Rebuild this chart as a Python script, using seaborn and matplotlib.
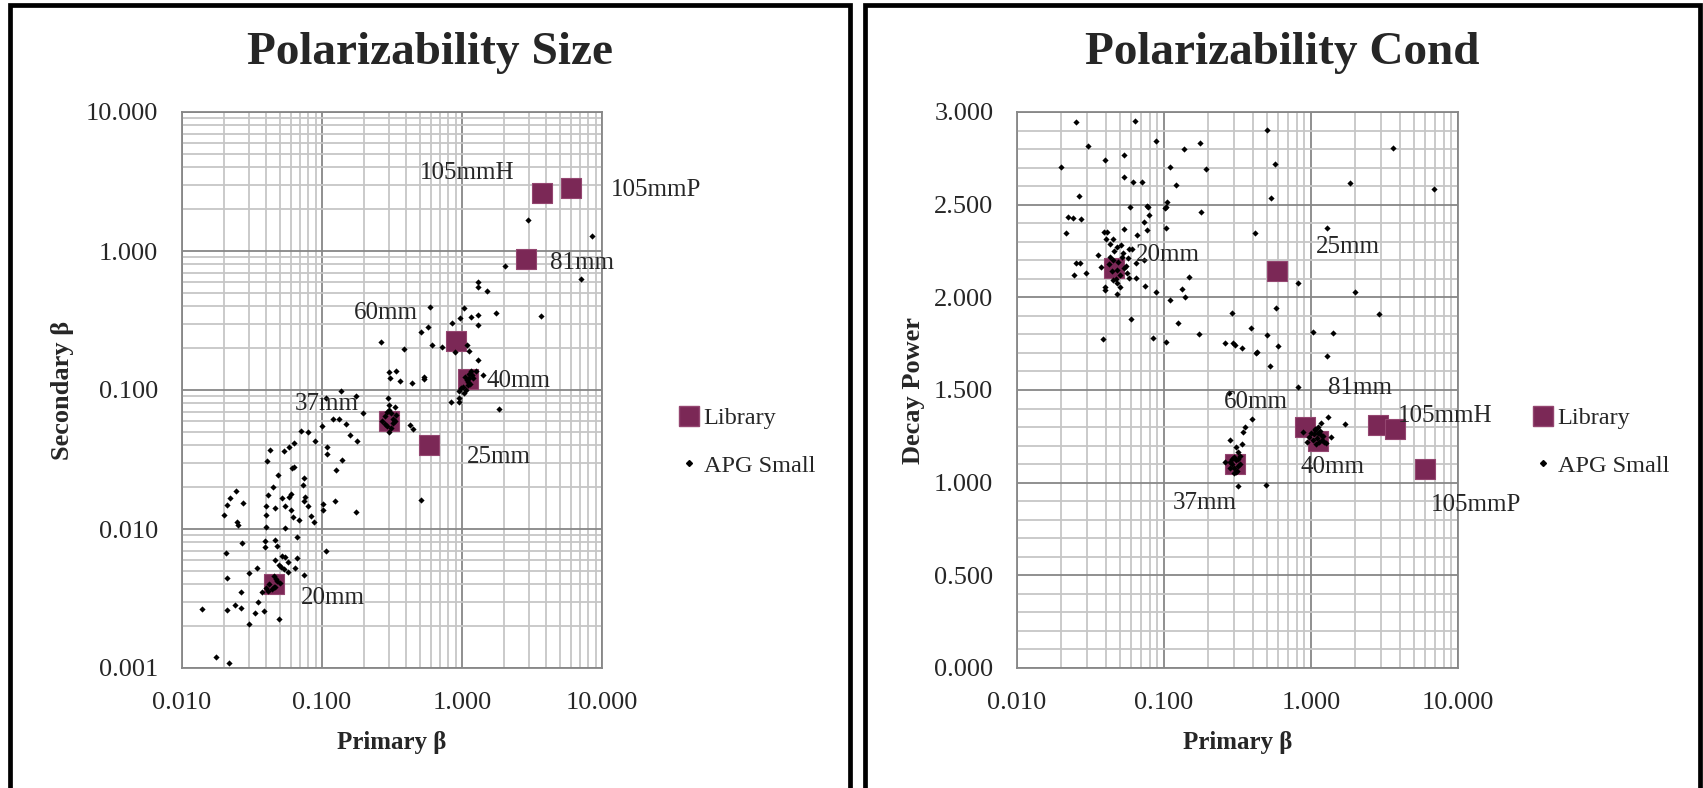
import numpy as np
import pandas as pd
import seaborn as sns
import matplotlib.pyplot as plt
from matplotlib import ticker
from matplotlib.lines import Line2D

# ---- Library targets ----
lib_names = ['20mm', '25mm', '37mm', '40mm', '60mm', '81mm', '105mmH', '105mmP']
lib_primary = [0.0456, 0.585, 0.303, 1.11, 0.91, 2.85, 3.72, 6.0]
lib_secondary = [0.0040, 0.040, 0.060, 0.120, 0.225, 0.87, 2.63, 2.82]
lib_decay = [2.157, 2.142, 1.100, 1.227, 1.300, 1.311, 1.288, 1.074]

# ---- APG Small, size panel ----
apg_size_primary = [
    2.94, 8.44, 2.02, 7.06, 1.30, 1.30, 1.52, 0.590, 1.04, 1.74, 3.68, 1.16, 1.30, 0.973,
    0.844, 1.30, 0.570, 0.507, 0.264, 0.607, 0.725, 1.08, 0.388, 0.891, 1.13, 1.30, 0.300,
    0.340, 1.16, 1.25, 1.42, 0.305, 0.358, 0.531, 0.531, 0.436, 1.19, 1.10, 0.991, 0.948,
    1.04, 0.137, 0.174, 0.106, 0.297, 0.948,
    1.05, 1.08, 1.12, 1.15, 1.02, 1.10, 1.06, 1.18, 1.13,
    0.195, 0.829, 0.948, 1.85, 0.119, 0.133, 0.149, 0.0713, 0.0800, 0.0891, 0.159, 0.179,
    0.100, 0.425, 0.444, 0.0580, 0.0635, 0.0535, 0.0428, 0.0406, 0.109, 0.109, 0.140,
    0.0635, 0.0612, 0.0485, 0.125, 0.0745, 0.0732, 0.0444, 0.0242, 0.0219, 0.0272, 0.0210,
    0.0596, 0.0580, 0.0521, 0.0413, 0.0759, 0.0745, 0.0800, 0.0399, 0.0464, 0.0545, 0.102,
    0.102, 0.0596, 0.174, 0.0199, 0.0399, 0.0624, 0.0836, 0.0688, 0.0249, 0.0251, 0.0875,
    0.0399, 0.0545, 0.123, 0.507, 0.0269, 0.0392, 0.0460, 0.0658, 0.0392, 0.0477, 0.0206,
    0.106, 0.0464, 0.0521, 0.0540, 0.0658, 0.0646, 0.0570, 0.0490, 0.0512, 0.0535, 0.0570,
    0.0346, 0.0300, 0.0745, 0.0456, 0.0210, 0.0399, 0.0456, 0.0375, 0.0262, 0.0349, 0.0238,
    0.0264, 0.0210, 0.0385, 0.0140, 0.0334, 0.0494, 0.0300, 0.0175, 0.0217,
    0.28, 0.30, 0.32, 0.29, 0.31, 0.33, 0.27, 0.30, 0.32, 0.29, 0.31, 0.34, 0.28, 0.30, 0.33,
    0.042, 0.046, 0.048, 0.044, 0.050, 0.047, 0.041,
]
apg_size_secondary = [
    1.67, 1.29, 0.780, 0.625, 0.601, 0.548, 0.515, 0.393, 0.387, 0.356, 0.341, 0.337, 0.349,
    0.328, 0.305, 0.294, 0.286, 0.260, 0.223, 0.211, 0.205, 0.211, 0.196, 0.189, 0.191,
    0.164, 0.134, 0.138, 0.138, 0.136, 0.128, 0.121, 0.117, 0.125, 0.120, 0.112, 0.121,
    0.115, 0.103, 0.0989, 0.0946, 0.0984, 0.0906, 0.0871, 0.0871, 0.0871,
    0.125, 0.118, 0.130, 0.110, 0.105, 0.108, 0.100, 0.128, 0.122,
    0.0687, 0.0824, 0.0824, 0.0726, 0.0615, 0.0615, 0.0566, 0.0509, 0.0496, 0.0432, 0.0474,
    0.0432, 0.0551, 0.0560, 0.0521, 0.0391, 0.0413, 0.0364, 0.0370, 0.0310, 0.0386, 0.0347,
    0.0313, 0.0281, 0.0273, 0.0244, 0.0266, 0.0231, 0.0208, 0.0199, 0.0189, 0.0168, 0.0153,
    0.0150, 0.0179, 0.0171, 0.0168, 0.0177, 0.0169, 0.0160, 0.0146, 0.0146, 0.0141, 0.0146,
    0.0151, 0.0137, 0.0137, 0.0133, 0.0126, 0.0126, 0.0121, 0.0125, 0.0116, 0.0113, 0.0107,
    0.0112, 0.0104, 0.0102, 0.0159, 0.0162, 0.00797, 0.00824, 0.00834, 0.00881, 0.00747,
    0.00755, 0.00676, 0.00695, 0.00598, 0.00640, 0.00626, 0.00619, 0.00524, 0.00582,
    0.00551, 0.00536, 0.00513, 0.00493, 0.00527, 0.00480, 0.00467, 0.00459, 0.00442,
    0.00378, 0.00385, 0.00354, 0.00350, 0.00296, 0.00284, 0.00269, 0.00261, 0.00258,
    0.00264, 0.00250, 0.00224, 0.00206, 0.00119, 0.00108,
    0.065, 0.072, 0.058, 0.055, 0.068, 0.075, 0.060, 0.050, 0.062, 0.070, 0.053, 0.066,
    0.057, 0.078, 0.060,
    0.0040, 0.0038, 0.0042, 0.0037, 0.0041, 0.0044, 0.0036,
]

# ---- APG Small, cond panel ----
apg_cond_primary = [
    0.0252, 0.0631, 0.501, 0.0303, 0.0877, 0.137, 0.175, 3.59, 0.0396, 0.0533, 0.0200, 0.109,
    0.193, 0.565, 0.0537, 0.0615, 0.0705, 0.120, 1.83, 6.87, 0.0264, 0.532, 0.0589, 0.0761,
    0.078, 0.105, 0.103, 0.101, 0.179, 0.0221, 0.0241, 0.0273, 0.0794, 0.0729, 0.103, 0.0761,
    0.0532, 0.414, 1.29, 0.0214, 0.0390, 0.041, 0.0655, 0.0402, 0.0451, 0.0430, 0.048,
    0.0574, 0.061, 0.0355, 0.0565, 0.0729, 0.0252, 0.027, 0.0372, 0.0642, 0.0532, 0.0296,
    0.0243, 0.0574, 0.0642, 0.149, 0.0449, 0.0476, 0.0394, 0.0394, 0.0500, 0.0748, 0.815,
    0.132, 0.0478, 0.088, 1.98, 0.139, 0.110, 0.580, 0.292, 2.90, 0.0596, 0.125, 0.389, 1.03,
    1.41, 0.174, 0.501, 0.0385, 0.084, 0.103, 0.262, 0.295, 0.305, 0.339, 0.430, 0.424,
    0.594, 1.29, 0.528, 0.815, 0.277,
    0.045, 0.048, 0.042, 0.052, 0.050, 0.046, 0.055, 0.044, 0.049, 0.053, 0.047, 0.051,
    0.043, 0.056,
    0.395, 0.353, 0.345, 0.281, 0.339, 0.311, 0.319, 0.327, 0.262, 0.316, 0.319, 0.497,
    1.71, 1.30, 1.17, 0.880, 1.07, 1.37, 1.22, 0.97, 1.12, 1.27, 1.03, 1.17, 0.942,
    1.05, 1.10, 1.15, 1.08, 1.20, 1.12, 1.00, 1.18, 1.06, 1.14,
    0.29, 0.31, 0.30, 0.32, 0.28, 0.30, 0.31, 0.29, 0.33, 0.30, 0.32, 0.28,
]
apg_cond_decay = [
    2.946, 2.951, 2.903, 2.817, 2.842, 2.799, 2.831, 2.806, 2.743, 2.768, 2.705, 2.705,
    2.691, 2.719, 2.651, 2.624, 2.622, 2.606, 2.615, 2.583, 2.545, 2.534, 2.486, 2.495,
    2.489, 2.516, 2.489, 2.480, 2.462, 2.433, 2.428, 2.423, 2.444, 2.408, 2.372, 2.363,
    2.367, 2.345, 2.376, 2.345, 2.354, 2.354, 2.335, 2.317, 2.317, 2.286, 2.273, 2.263,
    2.259, 2.228, 2.210, 2.201, 2.187, 2.187, 2.165, 2.183, 2.156, 2.133, 2.121, 2.103,
    2.106, 2.112, 2.094, 2.076, 2.058, 2.040, 2.058, 2.061, 2.076, 2.043, 2.018, 2.027,
    2.031, 2.000, 1.986, 1.941, 1.914, 1.910, 1.883, 1.863, 1.833, 1.815, 1.809, 1.802,
    1.797, 1.775, 1.781, 1.761, 1.752, 1.752, 1.743, 1.729, 1.707, 1.701, 1.739, 1.683,
    1.629, 1.518, 1.482,
    2.20, 2.15, 2.18, 2.22, 2.12, 2.25, 2.17, 2.14, 2.19, 2.24, 2.10, 2.28, 2.22, 2.13,
    1.342, 1.302, 1.275, 1.230, 1.207, 1.194, 1.167, 1.144, 1.113, 1.063, 0.982, 0.987,
    1.315, 1.353, 1.324, 1.275, 1.284, 1.245, 1.221, 1.248, 1.266, 1.212, 1.230, 1.257,
    1.221,
    1.26, 1.24, 1.28, 1.21, 1.25, 1.30, 1.27, 1.23, 1.29, 1.22,
    1.10, 1.12, 1.08, 1.09, 1.11, 1.14, 1.06, 1.13, 1.10, 1.05, 1.13, 1.08,
]

# label placement (ha, dx, dy in pixels) - Excel data label positions
size_label_pos = {
    '105mmH': ('right', -27, 20), '105mmP': ('left', 40, -2), '81mm': ('left', 24, -4),
    '60mm': ('right', -38, 28), '40mm': ('left', 18, -2), '37mm': ('right', -31, 17),
    '25mm': ('left', 37, -12), '20mm': ('left', 27, -14),
}
cond_label_pos = {
    '20mm': ('left', 22, 13), '25mm': ('left', 39, 24), '60mm': ('right', -17, 25),
    '81mm': ('center', -18, 37), '105mmH': ('left', 3, 13), '105mmP': ('left', 5, -36),
    '40mm': ('center', 15, -26), '37mm': ('center', -30, -39),
}

LIB_COLOR = '#7b2856'
GRID_MAJOR = '#878787'
GRID_MINOR = '#c6c6c6'

sns.set_style('white')
plt.rcParams['font.family'] = ['Liberation Serif', 'DejaVu Serif']

W, H = 1703, 788
fig = plt.figure(figsize=(W / 100, H / 100), dpi=100)


def ax_rect(x0, x1, y0, y1):
    return [x0 / W, 1 - y1 / H, (x1 - x0) / W, (y1 - y0) / H]


def fmt3(x, pos):
    return '%.3f' % x


def plota_painel(ax, apg_x, apg_y, lib_y, label_pos, ylabel, ylog):
    df_lib = pd.DataFrame({'x': lib_primary, 'y': lib_y, 'nome': lib_names})
    df_apg = pd.DataFrame({'x': apg_x, 'y': apg_y})

    sns.scatterplot(data=df_lib, x='x', y='y', marker='s', s=210, color=LIB_COLOR,
                    edgecolor='#944670', linewidth=0.8, ax=ax, zorder=3, legend=False)
    sns.scatterplot(data=df_apg, x='x', y='y', marker='D', s=10, color='black',
                    linewidth=0, ax=ax, zorder=4, legend=False)

    ax.set_xscale('log')
    ax.set_xlim(0.01, 10)
    ax.xaxis.set_major_locator(ticker.LogLocator(base=10, numticks=10))
    ax.xaxis.set_minor_locator(ticker.LogLocator(base=10, subs=np.arange(2, 10), numticks=10))
    ax.xaxis.set_minor_formatter(ticker.NullFormatter())
    ax.xaxis.set_major_formatter(ticker.FuncFormatter(fmt3))

    if ylog:
        ax.set_yscale('log')
        ax.set_ylim(0.001, 10)
        ax.yaxis.set_major_locator(ticker.LogLocator(base=10, numticks=10))
        ax.yaxis.set_minor_locator(ticker.LogLocator(base=10, subs=np.arange(2, 10), numticks=10))
        ax.yaxis.set_minor_formatter(ticker.NullFormatter())
    else:
        ax.set_ylim(0, 3)
        ax.yaxis.set_major_locator(ticker.MultipleLocator(0.5))
        ax.yaxis.set_minor_locator(ticker.MultipleLocator(0.1))
    ax.yaxis.set_major_formatter(ticker.FuncFormatter(fmt3))

    ax.set_axisbelow(True)
    ax.grid(which='minor', color=GRID_MINOR, lw=1.3)
    ax.grid(which='major', color=GRID_MAJOR, lw=1.3)
    for sp in ax.spines.values():
        sp.set_color(GRID_MAJOR)
        sp.set_linewidth(1.3)
    ax.tick_params(which='major', length=7, width=1.3, color=GRID_MAJOR,
                   labelsize=19, pad=10, direction='out')
    ax.tick_params(which='minor', length=0)

    ax.set_xlabel('Primary β', fontsize=18, fontweight='bold')
    ax.set_ylabel(ylabel, fontsize=19, fontweight='bold')

    for nome, x, y in zip(lib_names, lib_primary, lib_y):
        ha, dx, dy = label_pos[nome]
        ax.annotate(nome, xy=(x, y), xytext=(dx, dy), textcoords='offset pixels',
                    ha=ha, va='center', fontsize=18, zorder=5)


ax1 = fig.add_axes(ax_rect(182, 602, 112, 668))
plota_painel(ax1, apg_size_primary, apg_size_secondary, lib_secondary,
             size_label_pos, 'Secondary β', True)
ax1.yaxis.set_label_coords((74 - 182) / 420, 0.5)
ax1.xaxis.set_label_coords(0.5, (668 - 731) / 556)

ax2 = fig.add_axes(ax_rect(1017, 1458, 112, 668))
plota_painel(ax2, apg_cond_primary, apg_cond_decay, lib_decay,
             cond_label_pos, 'Decay Power', False)
ax2.yaxis.set_label_coords((925 - 1017) / 441, 0.5)
ax2.xaxis.set_label_coords(0.5, (668 - 731) / 556)

# titles
fig.text(430 / W, 1 - 53 / H, 'Polarizability Size', ha='center', va='center',
         fontsize=34, fontweight='bold')
fig.text(1282 / W, 1 - 53 / H, 'Polarizability Cond', ha='center', va='center',
         fontsize=34, fontweight='bold')

# legends
handles = [
    Line2D([], [], ls='none', marker='s', markersize=14, color=LIB_COLOR,
           markeredgecolor='#944670'),
    Line2D([], [], ls='none', marker='D', markersize=3, color='black'),
]
for x_left in (678, 1532):
    fig.legend(handles, ['Library', 'APG Small'], loc='upper left',
               bbox_to_anchor=(x_left / W, 1 - 407 / H), frameon=False,
               fontsize=17.5, handlelength=0.9, handletextpad=0.15,
               labelspacing=1.05, borderpad=0, borderaxespad=0)

# panel frames (open at the bottom)
for x0, x1 in ((9.5, 849.5), (864.5, 1699.5)):
    yt = 1 - 5 / H
    fig.add_artist(Line2D([x0 / W, x0 / W, x1 / W, x1 / W], [-0.02, yt, yt, -0.02],
                          transform=fig.transFigure, color='black', lw=3.4,
                          solid_joinstyle='miter'))

fig.savefig('out.png', dpi=100)
